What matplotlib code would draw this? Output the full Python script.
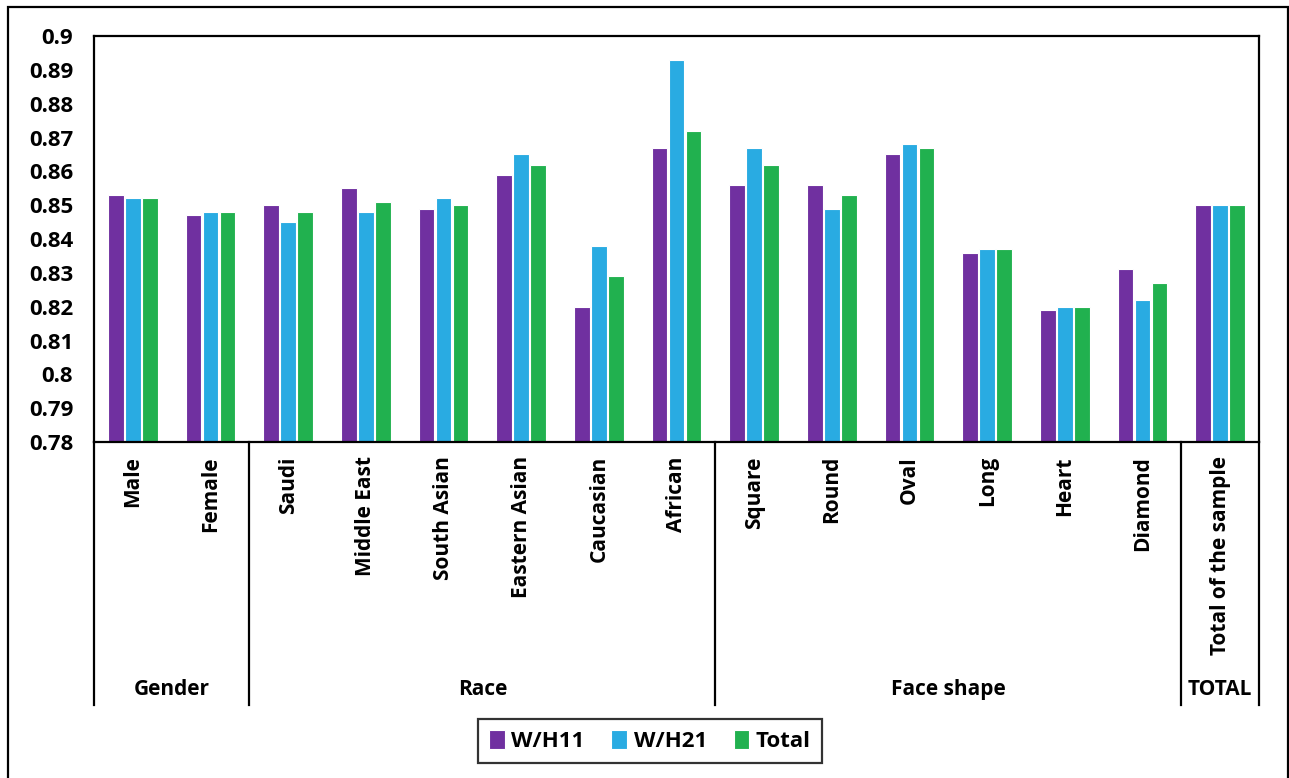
import numpy as np
import matplotlib
matplotlib.use('Agg')
import matplotlib.pyplot as plt
from matplotlib.patches import Rectangle
from matplotlib.transforms import blended_transform_factory

# category names, in the order they are drawn
categories = ['Male', 'Female',
              'Saudi', 'Middle East', 'South Asian', 'Eastern Asian', 'Caucasian', 'African',
              'Square', 'Round', 'Oval', 'Long', 'Heart', 'Diamond',
              'Total of the sample']
# group names and how many categories each one spans
groups = ['Gender', 'Race', 'Face shape', 'TOTAL']
group_sizes = [2, 6, 6, 1]

# ratio values per series
wh11 = [0.853, 0.847, 0.850, 0.855, 0.849, 0.859, 0.820, 0.867,
        0.856, 0.856, 0.865, 0.836, 0.819, 0.831, 0.850]
wh21 = [0.852, 0.848, 0.845, 0.848, 0.852, 0.865, 0.838, 0.893,
        0.867, 0.849, 0.868, 0.837, 0.820, 0.822, 0.850]
total = [0.852, 0.848, 0.848, 0.851, 0.850, 0.862, 0.829, 0.872,
         0.862, 0.853, 0.867, 0.837, 0.820, 0.827, 0.850]

series_names = ['W/H11', 'W/H21', 'Total']
colors = ['#7030A0', '#29ABE2', '#21B14F']
y_ticks = [0.78, 0.79, 0.80, 0.81, 0.82, 0.83, 0.84, 0.85, 0.86, 0.87, 0.88, 0.89, 0.90]
y_tick_labels = ['0.78', '0.79', '0.8', '0.81', '0.82', '0.83', '0.84', '0.85',
                 '0.86', '0.87', '0.88', '0.89', '0.9']

plt.rcParams['font.family'] = ['Open Sans', 'DejaVu Sans']
plt.rcParams['font.weight'] = 'bold'

W, H = 1289, 778
fig = plt.figure(figsize=(W / 100, H / 100), dpi=100)
ax = fig.add_axes([94 / W, 1 - 442 / H, (1259 - 94) / W, (442 - 36) / H])

x = np.arange(len(categories))
bar_w = 0.2
step = 0.22
for i, (vals, name, c) in enumerate(zip([wh11, wh21, total], series_names, colors)):
    ax.bar(x + (i - 1) * step, np.array(vals) - 0.78, bar_w, bottom=0.78,
           color=c, edgecolor='white', linewidth=0.8, label=name)

ax.set_xlim(-0.5, len(categories) - 0.5)
ax.set_ylim(0.78, 0.90)
ax.set_yticks(y_ticks)
ax.set_yticklabels(y_tick_labels, fontweight='bold')
ax.tick_params(axis='y', length=0, pad=15, labelsize=16)
ax.set_xticks([])
for s in ax.spines.values():
    s.set_linewidth(1.6)
    s.set_color('black')

# category labels and group separators below the axis
trans = blended_transform_factory(ax.transData, ax.transAxes)
for xi, cat in zip(x, categories):
    ax.text(xi, -0.035, cat, rotation=90, ha='center', va='top', fontsize=15,
            fontweight='bold', transform=trans)

bounds = np.concatenate([[0], np.cumsum(group_sizes)]) - 0.5
for b in bounds:
    ax.plot([b, b], [0, -0.648], color='black', lw=1.6, transform=trans, clip_on=False)
for g, lo, hi in zip(groups, bounds[:-1], bounds[1:]):
    ax.text((lo + hi) / 2, -0.61, g, ha='center', va='center', fontsize=15,
            fontweight='bold', transform=trans)

leg = fig.legend(loc='center', bbox_to_anchor=(650 / W, 1 - 741 / H), ncol=3,
                 frameon=True, fancybox=False, prop={'size': 16, 'weight': 'bold'},
                 handlelength=0.7, handleheight=0.9, handletextpad=0.3,
                 columnspacing=1.2, borderpad=0.5, edgecolor='black')
leg.get_frame().set_linewidth(1.6)

# outer border around the whole chart
fig.patches.append(Rectangle((8 / W, -0.02), (1288 - 8) / W, 1 - 7 / H + 0.02,
                             transform=fig.transFigure, fill=False,
                             edgecolor='black', linewidth=1.6))

fig.savefig('out.png', dpi=100)
